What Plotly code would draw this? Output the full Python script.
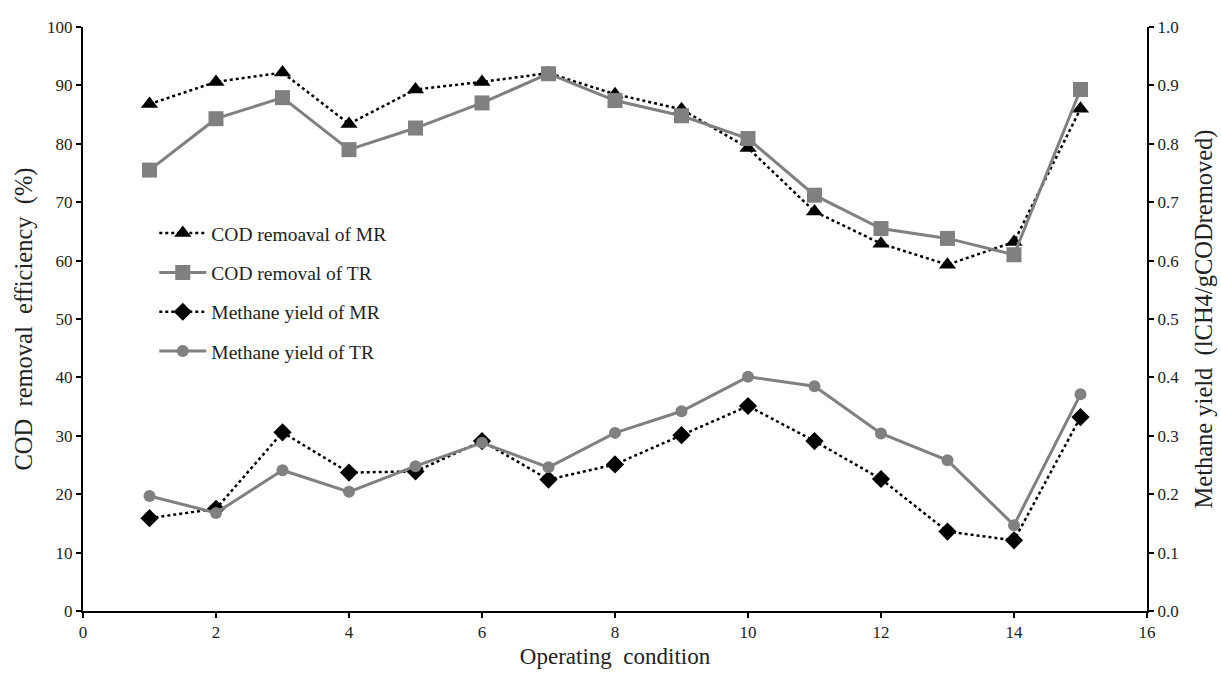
import plotly.graph_objects as go

# Operating conditions (x)
conditions = list(range(1, 16))

# COD removal efficiency (%), left axis
cod_mr = [86.8, 90.6, 92.2, 83.4, 89.3, 90.6, 92.1, 88.5, 85.9, 79.3, 68.4, 62.9, 59.3, 63.2, 86.0]
cod_tr = [75.5, 84.3, 87.9, 79.0, 82.7, 87.0, 92.0, 87.4, 84.8, 80.9, 71.2, 65.5, 63.8, 61.0, 89.3]

# Methane yield (lCH4/gCODremoved), right axis
ch4_mr = [0.159, 0.175, 0.306, 0.237, 0.239, 0.291, 0.225, 0.251, 0.301, 0.351, 0.291, 0.226, 0.136, 0.121, 0.332]
ch4_tr = [0.197, 0.168, 0.241, 0.204, 0.248, 0.288, 0.246, 0.305, 0.342, 0.401, 0.385, 0.304, 0.258, 0.147, 0.371]

GRAY = "#808080"
FONT = "Liberation Serif"

fig = go.Figure()

fig.add_trace(go.Scatter(
    x=conditions, y=cod_mr, name="COD remoaval of MR", mode="lines+markers",
    line=dict(color="black", width=2.5, dash="dot"),
    marker=dict(symbol="triangle-up", size=15, color="black"),
    legendgroup="a",
))
fig.add_trace(go.Scatter(
    x=conditions, y=cod_tr, name="COD removal of TR", mode="lines+markers",
    line=dict(color=GRAY, width=3),
    marker=dict(symbol="square", size=15, color=GRAY),
    legendgroup="b",
))
fig.add_trace(go.Scatter(
    x=conditions, y=ch4_mr, name="Methane yield of MR", mode="lines+markers",
    line=dict(color="black", width=2.5, dash="dot"),
    marker=dict(symbol="diamond", size=14, color="black"),
    yaxis="y2", legendgroup="c",
))
fig.add_trace(go.Scatter(
    x=conditions, y=ch4_tr, name="Methane yield of TR", mode="lines+markers",
    line=dict(color=GRAY, width=3),
    marker=dict(symbol="circle", size=12, color=GRAY),
    yaxis="y2", legendgroup="d",
))

axis_common = dict(
    showline=True, linecolor="black", linewidth=2,
    ticks="outside", ticklen=5, tickwidth=2, tickcolor="black",
    showgrid=False, zeroline=False,
    tickfont=dict(family=FONT, size=17, color="#222"),
    automargin=False,
)

fig.update_layout(
    width=1221, height=678,
    margin=dict(l=83, r=74, t=27, b=67),
    plot_bgcolor="white", paper_bgcolor="white",
    font=dict(family=FONT, color="#222"),
    xaxis=dict(
        range=[0, 16], dtick=2, tick0=0,
        title=dict(text="Operating  condition", font=dict(family=FONT, size=23), standoff=6),
        **axis_common,
    ),
    yaxis=dict(
        range=[0, 100], dtick=10,
        title=dict(text="COD  removal  efficiency  (%)", font=dict(family=FONT, size=24.5), standoff=8),
        **axis_common,
    ),
    yaxis2=dict(
        range=[0, 1.0], dtick=0.1, tickformat=".1f",
        overlaying="y", side="right",
        title=dict(text="Methane yield  (lCH4/gCODremoved)", font=dict(family=FONT, size=24.5), standoff=17),
        **axis_common,
    ),
    legend=dict(
        x=0.067, y=0.68, xanchor="left", yanchor="top",
        font=dict(family=FONT, size=19.5, color="#222"),
        bgcolor="rgba(0,0,0,0)", tracegroupgap=11, itemwidth=47,
    ),
    showlegend=True,
)

fig.write_html("out.html")
